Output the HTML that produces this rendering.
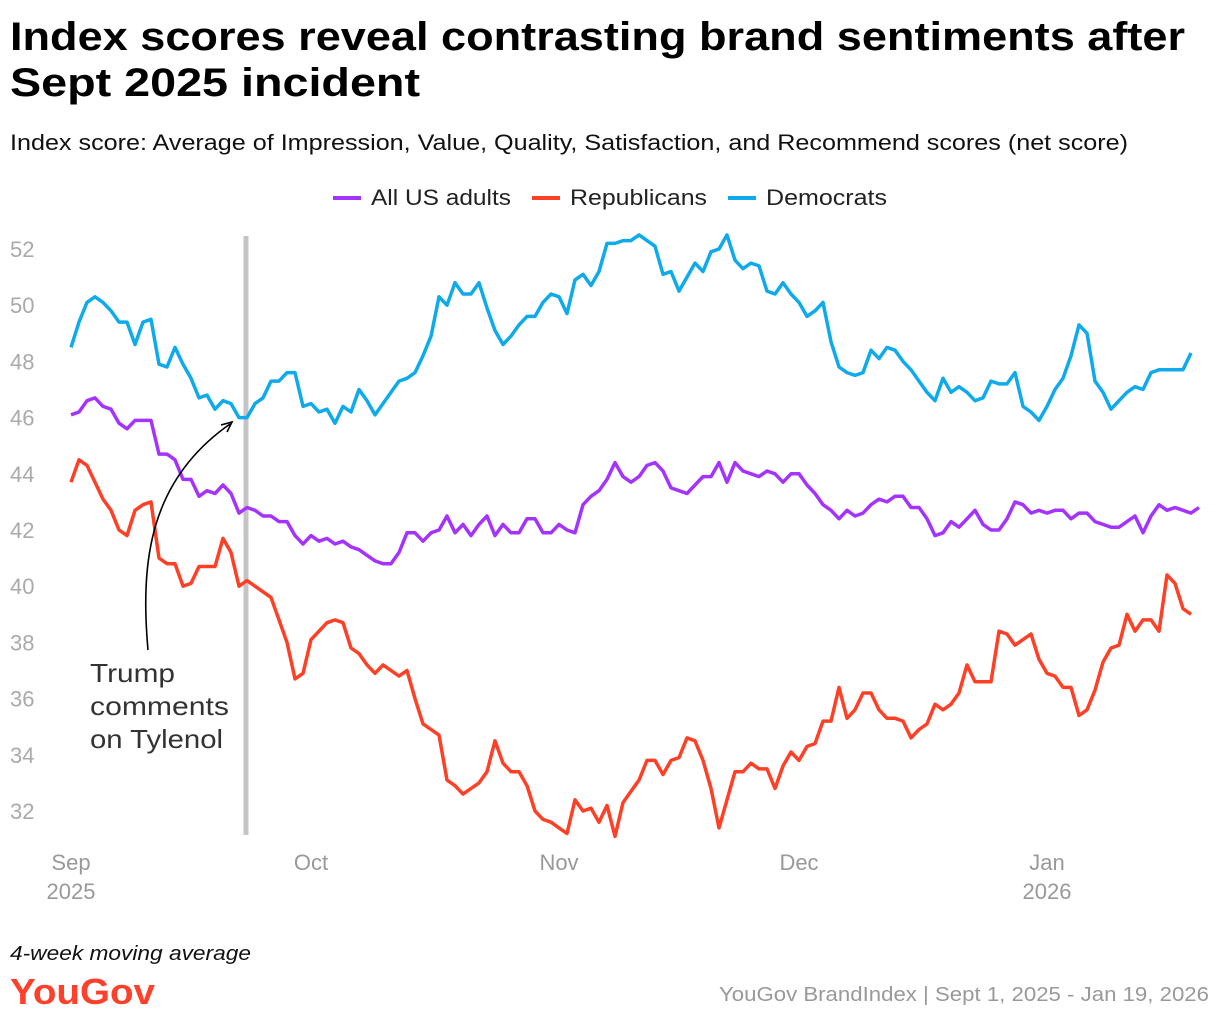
<!DOCTYPE html>
<html><head><meta charset="utf-8"><style>
body{margin:0;background:#fff;}
svg{display:block;font-family:"Liberation Sans",sans-serif;}
</style></head><body>
<svg id="chart" width="1220" height="1022" viewBox="0 0 1220 1022" xmlns="http://www.w3.org/2000/svg">
<text x="10" y="50" font-size="40" font-weight="bold" fill="#000" textLength="1175" lengthAdjust="spacingAndGlyphs">Index scores reveal contrasting brand sentiments after</text>
<text x="10" y="96" font-size="40" font-weight="bold" fill="#000" textLength="410" lengthAdjust="spacingAndGlyphs">Sept 2025 incident</text>
<text x="10" y="150" font-size="22" fill="#111" textLength="1118" lengthAdjust="spacingAndGlyphs">Index score: Average of Impression, Value, Quality, Satisfaction, and Recommend scores (net score)</text>
<g>
<g><line x1="333" y1="198" x2="361" y2="198" stroke="#a533ff" stroke-width="4"/><text x="371" y="205" font-size="22" fill="#222" textLength="140" lengthAdjust="spacingAndGlyphs">All US adults</text></g>
<g><line x1="532" y1="198" x2="560" y2="198" stroke="#ff4026" stroke-width="4"/><text x="570" y="205" font-size="22" fill="#222" textLength="137" lengthAdjust="spacingAndGlyphs">Republicans</text></g>
<g><line x1="728" y1="198" x2="756" y2="198" stroke="#0eaaeb" stroke-width="4"/><text x="766" y="205" font-size="22" fill="#222" textLength="121" lengthAdjust="spacingAndGlyphs">Democrats</text></g>
</g>
<g id="yaxis"></g>
<g id="xaxis"></g>
<rect x="243.5" y="236" width="5" height="599" fill="#c4c4c4"/>
<g id="series"></g>
<g>
<path d="M148,650 C140,560 150,480 230,424" fill="none" stroke="#000" stroke-width="1.6"/>
<path d="M221,425 L232,422 L227,432" fill="none" stroke="#000" stroke-width="1.6"/>
<text font-size="26" fill="#333"><tspan x="90" y="682" textLength="85" lengthAdjust="spacingAndGlyphs">Trump</tspan><tspan x="90" y="715" textLength="139" lengthAdjust="spacingAndGlyphs">comments</tspan><tspan x="90" y="748" textLength="133" lengthAdjust="spacingAndGlyphs">on Tylenol</tspan></text>
</g>
<text x="10" y="960" font-size="20" font-style="italic" fill="#111" textLength="241" lengthAdjust="spacingAndGlyphs">4-week moving average</text>
<text x="10" y="1004" font-size="36" font-weight="bold" fill="#ff412c" textLength="145" lengthAdjust="spacingAndGlyphs">YouGov</text>
<text x="719" y="1001" font-size="20" fill="#999" textLength="490" lengthAdjust="spacingAndGlyphs">YouGov BrandIndex | Sept 1, 2025 - Jan 19, 2026</text>
</svg>
<script>
const yTicks = [32,34,36,38,40,42,44,46,48,50,52];
const xTickDays = [0,30,61,91,122];
const xTickLabels = ["Sep","Oct","Nov","Dec","Jan"];
const xYearLabels = ["2025","","","","2026"];
const seriesNames = ["All US adults","Republicans","Democrats"];
const democrats = [48.5,49.4,50.1,50.3,50.1,49.8,49.4,49.4,48.6,49.4,49.5,47.9,47.8,48.5,47.9,47.4,46.7,46.8,46.3,46.6,46.5,46.0,46.0,46.5,46.7,47.3,47.3,47.6,47.6,46.4,46.5,46.2,46.3,45.8,46.4,46.2,47.0,46.6,46.1,46.5,46.9,47.3,47.4,47.6,48.2,48.9,50.3,50.0,50.8,50.4,50.4,50.8,49.9,49.1,48.6,48.9,49.3,49.6,49.6,50.1,50.4,50.3,49.7,50.9,51.1,50.7,51.2,52.2,52.2,52.3,52.3,52.5,52.3,52.1,51.1,51.2,50.5,51.0,51.5,51.2,51.9,52.0,52.5,51.6,51.3,51.5,51.4,50.5,50.4,50.8,50.4,50.1,49.6,49.8,50.1,48.7,47.8,47.6,47.5,47.6,48.4,48.1,48.5,48.4,48.0,47.7,47.3,46.9,46.6,47.4,46.9,47.1,46.9,46.6,46.7,47.3,47.2,47.2,47.6,46.4,46.2,45.9,46.4,47.0,47.4,48.2,49.3,49.0,47.3,46.9,46.3,46.6,46.9,47.1,47.0,47.6,47.7,47.7,47.7,47.7,48.3];
const allAdults = [46.1,46.2,46.6,46.7,46.4,46.3,45.8,45.6,45.9,45.9,45.9,44.7,44.7,44.5,43.8,43.8,43.2,43.4,43.3,43.6,43.3,42.6,42.8,42.7,42.5,42.5,42.3,42.3,41.8,41.5,41.8,41.6,41.7,41.5,41.6,41.4,41.3,41.1,40.9,40.8,40.8,41.2,41.9,41.9,41.6,41.9,42.0,42.5,41.9,42.2,41.8,42.2,42.5,41.8,42.2,41.9,41.9,42.4,42.4,41.9,41.9,42.2,42.0,41.9,42.9,43.2,43.4,43.8,44.4,43.9,43.7,43.9,44.3,44.4,44.1,43.5,43.4,43.3,43.6,43.9,43.9,44.4,43.7,44.4,44.1,44.0,43.9,44.1,44.0,43.7,44.0,44.0,43.6,43.3,42.9,42.7,42.4,42.7,42.5,42.6,42.9,43.1,43.0,43.2,43.2,42.8,42.8,42.4,41.8,41.9,42.3,42.1,42.4,42.7,42.2,42.0,42.0,42.4,43.0,42.9,42.6,42.7,42.6,42.7,42.7,42.4,42.6,42.6,42.3,42.2,42.1,42.1,42.3,42.5,41.9,42.5,42.9,42.7,42.8,42.7,42.6,42.8];
const republicans = [43.7,44.5,44.3,43.7,43.1,42.7,42.0,41.8,42.7,42.9,43.0,41.0,40.8,40.8,40.0,40.1,40.7,40.7,40.7,41.7,41.2,40.0,40.2,40.0,39.8,39.6,38.8,38.0,36.7,36.9,38.1,38.4,38.7,38.8,38.7,37.8,37.6,37.2,36.9,37.2,37.0,36.8,37.0,36.0,35.1,34.9,34.7,33.1,32.9,32.6,32.8,33.0,33.4,34.5,33.7,33.4,33.4,32.9,32.0,31.7,31.6,31.4,31.2,32.4,32.0,32.1,31.6,32.2,31.1,32.3,32.7,33.1,33.8,33.8,33.3,33.8,33.9,34.6,34.5,33.8,32.8,31.4,32.4,33.4,33.4,33.7,33.5,33.5,32.8,33.6,34.1,33.8,34.3,34.4,35.2,35.2,36.4,35.3,35.6,36.2,36.2,35.6,35.3,35.3,35.2,34.6,34.9,35.1,35.8,35.6,35.8,36.2,37.2,36.6,36.6,36.6,38.4,38.3,37.9,38.1,38.3,37.4,36.9,36.8,36.4,36.4,35.4,35.6,36.3,37.3,37.8,37.9,39.0,38.4,38.8,38.8,38.4,40.4,40.1,39.2,39.0];

const NS = "http://www.w3.org/2000/svg";
const x = d => 71 + d * 8;
const y = v => 249 + (52 - v) * 28.1;

const yaxis = document.getElementById('yaxis');
yTicks.forEach(t => {
  const tx = document.createElementNS(NS, 'text');
  
  
  tx.setAttribute('x', 10);
  tx.setAttribute('y', y(t) + 8);
  tx.setAttribute('font-size', '22');
  tx.setAttribute('fill', '#aaa');
  tx.textContent = t;
  yaxis.appendChild(tx);
});
const xaxis = document.getElementById('xaxis');
xTickDays.forEach((d, i) => {
  const tx = document.createElementNS(NS, 'text');
  
  
  tx.setAttribute('x', x(d));
  tx.setAttribute('y', 870);
  tx.setAttribute('font-size', '22');
  tx.setAttribute('fill', '#999');
  tx.setAttribute('text-anchor', 'middle');
  tx.textContent = xTickLabels[i];
  xaxis.appendChild(tx);
  if (xYearLabels[i]) {
    const ty = document.createElementNS(NS, 'text');
    
    
    ty.setAttribute('x', x(d));
    ty.setAttribute('y', 899);
    ty.setAttribute('font-size', '22');
    ty.setAttribute('fill', '#999');
    ty.setAttribute('text-anchor', 'middle');
    ty.textContent = xYearLabels[i];
    xaxis.appendChild(ty);
  }
});
const series = document.getElementById('series');
[[allAdults,'#a533ff','line-all-us-adults'],[republicans,'#ff4026','line-republicans'],[democrats,'#0eaaeb','line-democrats']].forEach(([vals, col, nm]) => {
  const p = document.createElementNS(NS, 'polyline');
  
  
  p.setAttribute('points', vals.map((v, i) => x(i) + ',' + y(v).toFixed(1)).join(' '));
  p.setAttribute('fill', 'none');
  p.setAttribute('stroke', col);
  p.setAttribute('stroke-width', '3.5');
  p.setAttribute('stroke-linejoin', 'round');
  series.appendChild(p);
});
</script>
</body></html>
